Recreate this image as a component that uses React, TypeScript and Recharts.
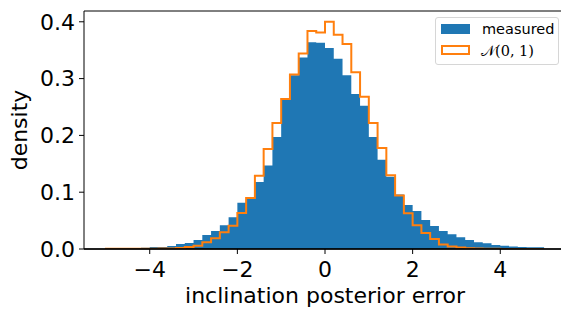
import React from 'react';
import { ComposedChart, Area, Line, XAxis, YAxis, ReferenceLine, Legend } from 'recharts';

// Histogram bin left edges (bin width 0.2), last bin closes at BIN_END
const BIN_EDGES = [
  -5.0, -4.8, -4.6, -4.4, -4.2, -4.0, -3.8, -3.6, -3.4, -3.2,
  -3.0, -2.8, -2.6, -2.4, -2.2, -2.0, -1.8, -1.6, -1.4, -1.2,
  -1.0, -0.8, -0.6, -0.4, -0.2, 0.0, 0.2, 0.4, 0.6, 0.8,
  1.0, 1.2, 1.4, 1.6, 1.8, 2.0, 2.2, 2.4, 2.6, 2.8,
  3.0, 3.2, 3.4, 3.6, 3.8, 4.0, 4.2, 4.4, 4.6, 4.8,
];
const BIN_END = 5.0;

// "measured" density per bin
const MEASURED = [
  0, 0, 0.0018, 0.0018, 0.0023, 0.0035, 0.0035, 0.0053, 0.0088, 0.0106,
  0.0158, 0.0246, 0.0317, 0.042, 0.056, 0.0815, 0.089, 0.118, 0.147, 0.197,
  0.263, 0.306, 0.337, 0.364, 0.363, 0.354, 0.335, 0.306, 0.273, 0.252,
  0.197, 0.157, 0.127, 0.096, 0.0775, 0.067, 0.051, 0.0405, 0.0317, 0.026,
  0.0206, 0.0158, 0.0118, 0.01, 0.007, 0.0058, 0.0042, 0.0035, 0.003, 0.003,
];

// N(0,1) sample density per bin
const NORMAL = [
  0.0004, 0.0004, 0.0003, 0.0003, 0.0005, 0.0005, 0.0008, 0.001, 0.0018, 0.0035,
  0.0058, 0.0118, 0.0188, 0.0295, 0.041, 0.0635, 0.09, 0.129, 0.176, 0.222,
  0.264, 0.307, 0.344, 0.384, 0.381, 0.4, 0.377, 0.361, 0.311, 0.268,
  0.222, 0.178, 0.13, 0.094, 0.063, 0.042, 0.028, 0.0176, 0.008, 0.0045,
  0.0025, 0.0012, 0.0008, 0.0005, 0.0003, 0, 0, 0, 0, 0,
];

const X_TICKS = [-4, -2, 0, 2, 4];
const Y_TICKS = [0, 0.1, 0.2, 0.3, 0.4];
const SERIES_NAMES = ['measured', '\u{1D4A9}(0, 1)'];
const X_LABEL = 'inclination posterior error';
const Y_LABEL = 'density';

const BLUE = '#1f77b4';
const ORANGE = '#ff7f0e';
const FONT = '"DejaVu Sans", sans-serif';

const data = [
  { x: BIN_EDGES[0], measured: 0, normal: 0 },
  ...BIN_EDGES.map((x, i) => ({ x, measured: MEASURED[i], normal: NORMAL[i] })),
  { x: BIN_END, measured: MEASURED[MEASURED.length - 1], normal: NORMAL[NORMAL.length - 1] },
  { x: BIN_END, measured: 0, normal: 0 },
];

const fmtX = (v: number) => (v < 0 ? '\u2212' + Math.abs(v) : String(v));
const fmtY = (v: number) => v.toFixed(1);

const LegendBox = () => (
  <div
    style={{
      width: 122,
      height: 46,
      border: '1px solid #d6d6d6',
      borderRadius: 3,
      background: 'rgba(255,255,255,0.8)',
      position: 'relative',
      fontFamily: FONT,
    }}
  >
    <div style={{ position: 'absolute', left: 5, top: 6, width: 29, height: 10, background: BLUE }} />
    <div style={{ position: 'absolute', left: 46, top: 1, fontSize: 14.5, lineHeight: '20px', color: '#000' }}>
      {SERIES_NAMES[0]}
    </div>
    <div
      style={{
        position: 'absolute',
        left: 5,
        top: 27,
        width: 29,
        height: 10,
        boxSizing: 'border-box',
        border: `2px solid ${ORANGE}`,
        background: '#fff',
      }}
    />
    <div
      style={{
        position: 'absolute',
        left: 45,
        top: 23,
        fontSize: 14.5,
        lineHeight: '20px',
        color: '#000',
        fontFamily: '"DejaVu Serif", serif',
      }}
    >
      {SERIES_NAMES[1]}
    </div>
  </div>
);

const YLabel = (props: any) => {
  const vb = props.viewBox || { x: 0, y: 0, width: 0, height: 0 };
  const cx = vb.x + 27;
  const cy = vb.y + vb.height / 2;
  return (
    <text
      x={cx}
      y={cy}
      transform={`rotate(-90 ${cx} ${cy})`}
      textAnchor="middle"
      fontSize={22}
      fontFamily={FONT}
      fill="#000"
    >
      {Y_LABEL}
    </text>
  );
};

const XLabel = (props: any) => {
  const vb = props.viewBox || { x: 0, y: 0, width: 0, height: 0 };
  return (
    <text
      x={vb.x + vb.width / 2}
      y={vb.y + vb.height - 6}
      textAnchor="middle"
      fontSize={22}
      fontFamily={FONT}
      fill="#000"
    >
      {X_LABEL}
    </text>
  );
};

export default function App() {
  return (
    <div style={{ position: 'absolute', left: 0, top: 0, width: 561, height: 309, overflow: 'hidden', background: '#fff' }}>
      <ComposedChart width={580} height={309} data={data} margin={{ top: 11, right: 14, bottom: 0, left: 0 }}>
        <XAxis
          dataKey="x"
          type="number"
          domain={[-5.5, 5.5]}
          ticks={X_TICKS}
          tickFormatter={fmtX}
          allowDataOverflow
          height={60}
          tickSize={5}
          tickMargin={7}
          axisLine={{ stroke: '#000', strokeWidth: 1 }}
          tickLine={{ stroke: '#000', strokeWidth: 1 }}
          tick={{ fill: '#000', fontSize: 22, fontFamily: FONT }}
          label={<XLabel />}
        />
        <YAxis
          type="number"
          domain={[0, 0.419]}
          ticks={Y_TICKS}
          tickFormatter={fmtY}
          allowDataOverflow
          width={84}
          tickSize={5}
          tickMargin={4}
          axisLine={{ stroke: '#000', strokeWidth: 1 }}
          tickLine={{ stroke: '#000', strokeWidth: 1 }}
          tick={{ fill: '#000', fontSize: 22, fontFamily: FONT }}
          label={<YLabel />}
        />
        <Area
          dataKey="measured"
          name={SERIES_NAMES[0]}
          type="stepAfter"
          fill={BLUE}
          fillOpacity={1}
          stroke="none"
          isAnimationActive={false}
          dot={false}
          activeDot={false}
        />
        <Line
          dataKey="normal"
          name={SERIES_NAMES[1]}
          type="stepAfter"
          stroke={ORANGE}
          strokeWidth={2}
          dot={false}
          activeDot={false}
          isAnimationActive={false}
        />
        <ReferenceLine y={0} stroke="#000" strokeWidth={1.6} ifOverflow="visible" />
        <ReferenceLine y={0.419} stroke="#000" strokeWidth={1} ifOverflow="visible" />
        <Legend
          layout="vertical"
          align="center"
          verticalAlign="middle"
          wrapperStyle={{ left: 435, top: 17, width: 124, height: 48 }}
          content={() => <LegendBox />}
        />
      </ComposedChart>
    </div>
  );
}
